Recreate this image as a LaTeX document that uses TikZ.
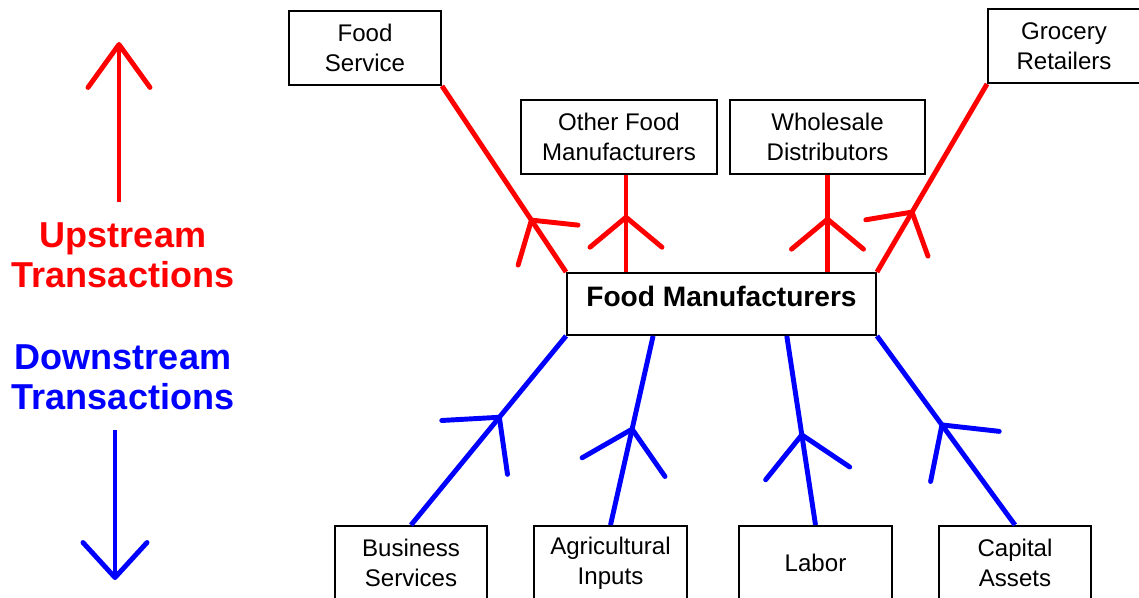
\documentclass[tikz,border=0pt]{standalone}
\usepackage{fontspec}
\setmainfont{Liberation Sans}
\usetikzlibrary{arrows.meta,decorations.markings,calc}

\begin{document}
\begin{tikzpicture}[
	box/.style={draw,line width=1.1pt,align=center,minimum height=1.48cm,inner sep=0pt,font=\fontsize{13.7}{17}\selectfont},
	legend/.style={align=center,font=\fontsize{20.5}{23}\selectfont\bfseries},
	upstream/.style={red,line width=2.8pt,decoration={markings,mark=at position #1 with {\arrow{Straight Barb[length=6mm,width=14.4mm,round]}}},postaction={decorate}},
	downstream/.style={blue,line width=2.8pt,decoration={markings,mark=at position #1 with {\arrow{Straight Barb[length=7.8mm,width=17mm,round]}}},postaction={decorate}}]
	\useasboundingbox (0,0) rectangle (22.78,-11.96);
	\node[box,minimum width=3.04cm] (fs) at (7.30,-0.96) {Food\\Service};
	\node[box,minimum width=3.92cm] (ofm) at (12.38,-2.74) {Other Food\\Manufacturers};
	\node[box,minimum width=3.90cm] (wd) at (16.55,-2.74) {Wholesale\\Distributors};
	\node[box,minimum width=3.04cm] (gr) at (21.28,-0.92) {Grocery\\Retailers};
	\node[box,minimum width=6.18cm,minimum height=1.24cm,text depth=0.32cm,font=\fontsize{16}{19}\selectfont\bfseries] (fm) at (14.43,-6.08) {Food Manufacturers};
	\node[box,minimum width=3.04cm] (bs) at (8.22,-11.26) {Business\\Services};
	\node[box,minimum width=3.06cm] (ai) at (12.21,-11.26) {Agricultural\\Inputs};
	\node[box,minimum width=3.06cm] (lab) at (16.31,-11.26) {Labor};
	\node[box,minimum width=3.04cm] (ca) at (20.30,-11.26) {Capital\\Assets};
	\draw[upstream=0.29] (fm.north west) -- (fs.south east);
	\draw[upstream=0.59] ([xshift=1.4mm]ofm.south |- fm.north) -- ([xshift=1.4mm]ofm.south);
	\draw[upstream=0.57] (wd.south |- fm.north) -- (wd.south);
	\draw[upstream=0.33] (fm.north east) -- (gr.south west);
	\draw[downstream=0.58] (bs.north) -- (fm.south west);
	\draw[downstream=0.52] (ai.north) -- ($(fm.south west)!0.28!(fm.south east)$);
	\draw[downstream=0.49] (lab.north) -- ($(fm.south west)!0.71!(fm.south east)$);
	\draw[downstream=0.54] (ca.north) -- (fm.south east);
	% legend on the left
	\node[legend,red] (up) at (2.46,-5.1) {Upstream\\Transactions};
	\node[legend,blue] (down) at (2.46,-7.55) {Downstream\\Transactions};
	\coordinate (upfoot) at (2.38,-4.04);
	\coordinate (uptip) at (2.38,-0.84);
	\coordinate (downfoot) at (2.30,-8.6);
	\coordinate (downtip) at (2.30,-11.6);
	\draw[red,line width=2.8pt,-{Straight Barb[length=8.6mm,width=12.4mm,round]}] (upfoot) -- (uptip);
	\draw[blue,line width=2.8pt,-{Straight Barb[length=7mm,width=12.8mm,round]}] (downfoot) -- (downtip);
\end{tikzpicture}
\end{document}
